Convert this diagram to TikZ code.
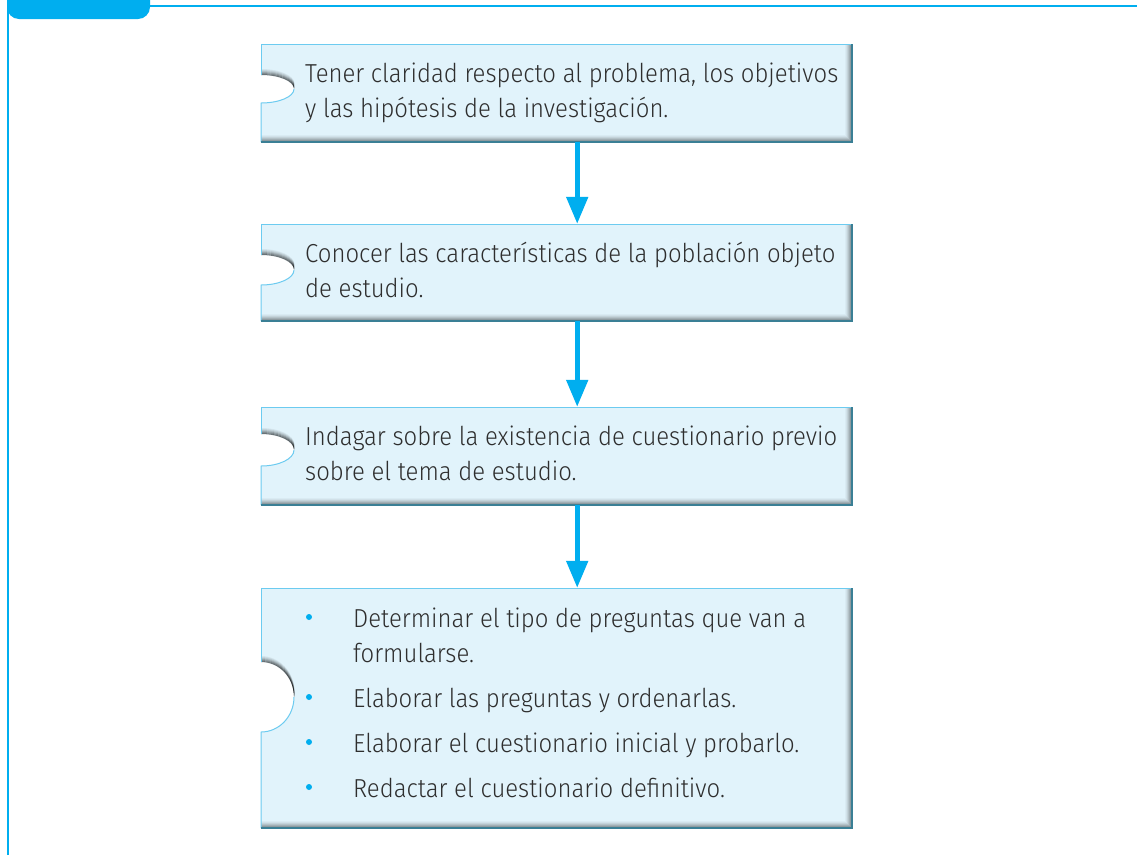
\documentclass[tikz,border=0pt]{standalone}
\usepackage{fontspec}
\setmainfont{Fira Sans Light}[FakeStretch=0.92]
\usetikzlibrary{arrows.meta,calc}
\definecolor{framecol}{HTML}{00AEEF}
\definecolor{boxfill}{HTML}{E1F3FB}
\definecolor{boxtop}{HTML}{6CCBF0}
\definecolor{boxedge}{HTML}{3A7F95}
\definecolor{txtcol}{HTML}{2E2E2E}
\tikzset{
  txt/.style={anchor=base west, inner sep=0pt, text=txtcol, font=\fontsize{26}{30}\selectfont},
  boxfit/.style={inner sep=0pt, draw=none, minimum width=#1},
  arr/.style={draw=framecol, line width=5pt, -{Triangle[width=21pt,length=27pt]}},
  bul/.style={circle, fill=framecol, inner sep=0pt, minimum size=6pt}
}
\newcommand\pzpath[6]{(#1,#2) -- (#3,#2) -- (#3,#4) -- (#1,#4) -- (#1,#5+#6) arc[start angle=-90,end angle=90,x radius=33pt,y radius=#6pt] -- cycle}
\newcommand\puzzlebox[7]{%
  \fill[boxfill] \pzpath{#1}{#2}{#3}{#4}{#5}{#6};
  \begin{scope}
    \clip \pzpath{#1}{#2}{#3}{#4}{#5}{#6};
    \foreach \i/\o in {1/0.45,2/0.36,3/0.28,4/0.2,5/0.13,6/0.07,7/0.03} {
      \draw[black, opacity=\o, line width=1pt] (#1,#4-\i+0.5) -- (#3-\i+0.5,#4-\i+0.5) -- (#3-\i+0.5,#2);
    }
    \foreach \i/\o in {1/0.5,2/0.4,3/0.3,4/0.2,5/0.12,6/0.06} {
      \draw[black, opacity=\o, line width=1pt] (#1,#5-#6-\i+0.5) arc[start angle=90,end angle=0,x radius=33pt,y radius=#6pt];
    }
  \end{scope}
  \draw[boxtop, line width=1pt] (#1,#5-#6) -- (#1,#2) -- (#3,#2);
  \draw[boxtop, line width=1pt] (#1,#4) -- (#1,#5+#6) arc[start angle=-90,end angle=0,x radius=33pt,y radius=#6pt];
  \draw[boxedge, line width=1.2pt] (#3,#2) -- (#3,#4) -- (#1,#4);
  \node[boxfit=#3-#1, minimum height=#4-#2] (#7) at ({(#1+#3)/2},{(#2+#4)/2}) {};
}
\begin{document}
\begin{tikzpicture}[x=1pt,y=-1pt]
\useasboundingbox (0,0) rectangle (1137,855);
\fill[white] (0,0) rectangle (1137,855);
% frame
\draw[framecol, line width=2pt] (8,855) -- (8,6) -- (1137,6);
\fill[framecol, rounded corners=12pt] (7,-20) rectangle (150,19);
% boxes
\puzzlebox{261}{44}{852}{142}{89}{14}{b1}
\puzzlebox{261}{224}{852}{321}{270}{15}{b2}
\puzzlebox{261}{407}{852}{505}{450}{16}{b3}
\puzzlebox{261}{588}{852}{828}{697}{35}{b4}
% texts
\node[txt] (t1a) at (305,82) {Tener claridad respecto al problema, los objetivos};
\node[txt] (t1b) at (305,117) {y las hipótesis de la investigación.};
\node[txt] (t2a) at (305,262) {Conocer las características de la población objeto};
\node[txt] (t2b) at (305,297) {de estudio.};
\node[txt] (t3a) at (305,445) {Indagar sobre la existencia de cuestionario previo};
\node[txt] (t3b) at (305,480) {sobre el tema de estudio.};
\node[txt] (t4a) at (353,627) {Determinar el tipo de preguntas que van a};
\node[txt] (t4b) at (353,662) {formularse.};
\node[txt] (t4c) at (353,707) {Elaborar las preguntas y ordenarlas.};
\node[txt] (t4d) at (353,752) {Elaborar el cuestionario inicial y probarlo.};
\node[txt] (t4e) at (353,797) {Redactar el cuestionario definitivo.};
\node[bul] (u1) at (309,617) {};
\node[bul] (u2) at (309,697) {};
\node[bul] (u3) at (309,742) {};
\node[bul] (u4) at (309,787) {};
% arrows
\draw[arr] ($(b1.south west)!0.535!(b1.south east)$) -- ($(b2.north west)!0.535!(b2.north east)$);
\draw[arr] ($(b2.south west)!0.535!(b2.south east)$) -- ($(b3.north west)!0.535!(b3.north east)$);
\draw[arr] ($(b3.south west)!0.535!(b3.south east)$) -- ($(b4.north west)!0.535!(b4.north east)$);
\end{tikzpicture}
\end{document}
